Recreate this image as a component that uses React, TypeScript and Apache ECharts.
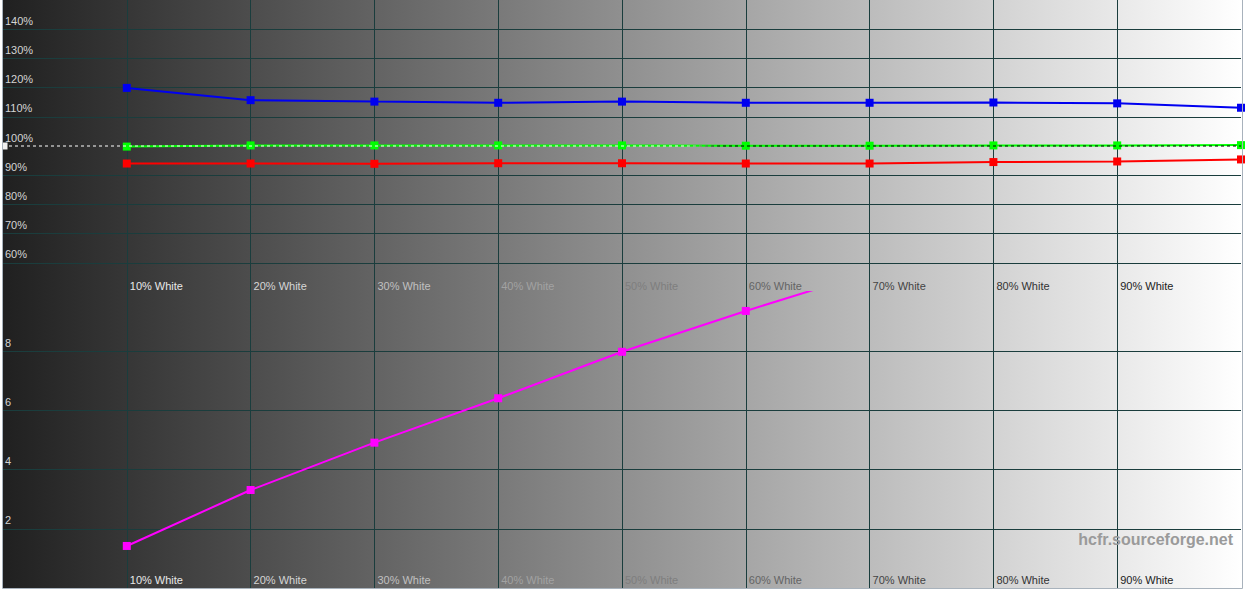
import React, { useEffect, useRef } from "react";
import * as echarts from "echarts";

// ---- data ----
const steps = [10, 20, 30, 40, 50, 60, 70, 80, 90, 100];
const redLevels = [94.0, 94.0, 93.9, 94.1, 94.1, 94.0, 94.0, 94.5, 94.7, 95.4];
const greenLevels = [99.8, 100.2, 100.2, 100.2, 100.2, 100.1, 100.1, 100.2, 100.2, 100.3];
const blueLevels = [119.9, 115.7, 115.2, 114.8, 115.2, 114.8, 114.8, 114.9, 114.6, 113.1];
const deltaESteps = [10, 20, 30, 40, 50, 60, 70];
const deltaEValues = [1.42, 3.31, 4.91, 6.41, 7.98, 9.36, 10.66];
const referenceLevel = 100;
const levelTicks = [60, 70, 80, 90, 100, 110, 120, 130, 140];
const deltaETicks = [2, 4, 6, 8];
const xLabelTicks = [10, 20, 30, 40, 50, 60, 70, 80, 90];
const xLabelColors = ["#e8e8e8", "#d6d6d6", "#c0c0c0", "#a2a2a2", "#7e7e7e", "#646464", "#444444", "#333333", "#222222"];

const FONT = "'Liberation Sans', Arial, sans-serif";
const GRID_COLOR = "#1a3d3d";
const T = "rgba(0,0,0,0)";

function App() {
  const ref = useRef<HTMLDivElement>(null);
  useEffect(() => {
    if (!ref.current) return;
    const chart = echarts.init(ref.current, null, { renderer: "svg" });
    const bg = new echarts.graphic.LinearGradient(0, 0, 1, 0, [
      { offset: 0, color: "#202020" },
      { offset: 1, color: "#ffffff" },
    ]);
    const bg2 = new echarts.graphic.LinearGradient(0, 0, 1, 0, [
      { offset: 0, color: "#202020" },
      { offset: 1, color: "#ffffff" },
    ]);
    const rich: any = {};
    xLabelTicks.forEach((t, i) => {
      rich["c" + t] = { color: xLabelColors[i], fontSize: 11, fontFamily: FONT };
    });
    const xLabelFmt = (v: number) => (xLabelTicks.indexOf(v) >= 0 ? `{c${v}|${v}% White}` : "");
    const xSplitColors = [T, GRID_COLOR, GRID_COLOR, GRID_COLOR, GRID_COLOR, GRID_COLOR, GRID_COLOR, GRID_COLOR, GRID_COLOR, GRID_COLOR, T];
    const ySplitTop = [T, GRID_COLOR, GRID_COLOR, GRID_COLOR, GRID_COLOR, T, GRID_COLOR, GRID_COLOR, GRID_COLOR, GRID_COLOR, T];
    const ySplitBottom = [T, GRID_COLOR, GRID_COLOR, GRID_COLOR, GRID_COLOR, T];

    const makeX = (gridIndex: number, margin: number) => ({
      type: "value",
      gridIndex,
      min: 0,
      max: 100,
      interval: 10,
      axisLine: { show: false },
      axisTick: { show: false },
      splitLine: { show: true, lineStyle: { color: xSplitColors, width: 1 } },
      axisLabel: {
        inside: true,
        align: "left",
        verticalAlign: "bottom",
        margin,
        padding: [0, 0, 0, 3],
        formatter: xLabelFmt,
        rich,
        showMinLabel: true,
        showMaxLabel: true,
      },
    });

    const yLabel = (fmt: (v: number) => string) => ({
      inside: true,
      align: "left",
      verticalAlign: "bottom",
      margin: 2,
      padding: [0, 0, 3, 0],
      color: "#d4d4d4",
      fontSize: 11,
      fontFamily: FONT,
      formatter: fmt,
    });

    const lineSeries = (name: string, color: string, vals: number[]) => ({
      name,
      type: "line",
      xAxisIndex: 0,
      yAxisIndex: 0,
      data: steps.map((s, i) => [s, vals[i]]),
      symbol: "rect",
      symbolSize: 8,
      showAllSymbol: true,
      lineStyle: { color, width: 2 },
      itemStyle: { color },
      clip: true,
      z: 2,
    });

    chart.setOption({
      animation: false,
      backgroundColor: "#ffffff",
      grid: [
        { left: 3, top: 0, width: 1238, height: 292, show: true, backgroundColor: bg, borderWidth: 0 },
        { left: 3, top: 292, width: 1238, height: 296, show: true, backgroundColor: bg2, borderWidth: 0 },
      ],
      xAxis: [makeX(0, 1), makeX(1, 3)],
      yAxis: [
        {
          type: "value",
          gridIndex: 0,
          min: 50,
          max: 150,
          interval: 10,
          axisLine: { show: false },
          axisTick: { show: false },
          splitLine: { show: true, lineStyle: { color: ySplitTop, width: 1 } },
          axisLabel: yLabel((v: number) => (levelTicks.indexOf(v) >= 0 ? `${v}%` : "")),
        },
        {
          type: "value",
          gridIndex: 1,
          min: 0,
          max: 10,
          interval: 2,
          axisLine: { show: false },
          axisTick: { show: false },
          splitLine: { show: true, lineStyle: { color: ySplitBottom, width: 1 } },
          axisLabel: yLabel((v: number) => (deltaETicks.indexOf(v) >= 0 ? `${v}` : "")),
        },
      ],
      series: [
        lineSeries("Red", "#ff0000", redLevels),
        lineSeries("Green", "#00ff00", greenLevels),
        lineSeries("Blue", "#0000f0", blueLevels),
        {
          name: "Reference",
          type: "line",
          xAxisIndex: 0,
          yAxisIndex: 0,
          data: [
            { value: [0, referenceLevel], symbol: "rect", symbolSize: [5, 7], symbolOffset: [2, 0], itemStyle: { color: "#f0f0f0" } },
            { value: [100, referenceLevel], symbol: "none" },
          ],
          symbol: "none",
          showAllSymbol: true,
          lineStyle: {
            width: 1,
            type: [3, 3],
            color: new echarts.graphic.LinearGradient(
              3,
              0,
              1241,
              0,
              [
                { offset: 0, color: "#ffffff" },
                { offset: 0.55, color: "#ffffff" },
                { offset: 0.58, color: "#000000" },
                { offset: 1, color: "#000000" },
              ],
              true
            ),
          },
          clip: false,
          z: 3,
        },
        {
          name: "DeltaE",
          type: "line",
          xAxisIndex: 1,
          yAxisIndex: 1,
          data: deltaESteps.map((s, i) => [s, deltaEValues[i]]),
          symbol: "rect",
          symbolSize: 8,
          showAllSymbol: true,
          lineStyle: { color: "#ff00ff", width: 2 },
          itemStyle: { color: "#ff00ff" },
          clip: true,
          z: 2,
        },
      ],
      graphic: [
        {
          type: "rect",
          silent: true,
          z: 10,
          shape: { x: 2.5, y: -1, width: 1240, height: 589.5 },
          style: { fill: null, stroke: "#a8b2bc", lineWidth: 1 },
        },
        {
          type: "text",
          silent: true,
          z: 10,
          x: 1233,
          y: 539,
          style: {
            text: "hcfr.sourceforge.net",
            fill: "#9a9a9a",
            font: `bold 16px ${FONT}`,
            textAlign: "right",
            textVerticalAlign: "middle",
          },
        },
      ],
    });
    return () => chart.dispose();
  }, []);
  return (
    <div
      ref={ref}
      style={{ position: "fixed", left: 0, top: 0, width: 1246, height: 590, background: "#ffffff" }}
    />
  );
}

export default App;
